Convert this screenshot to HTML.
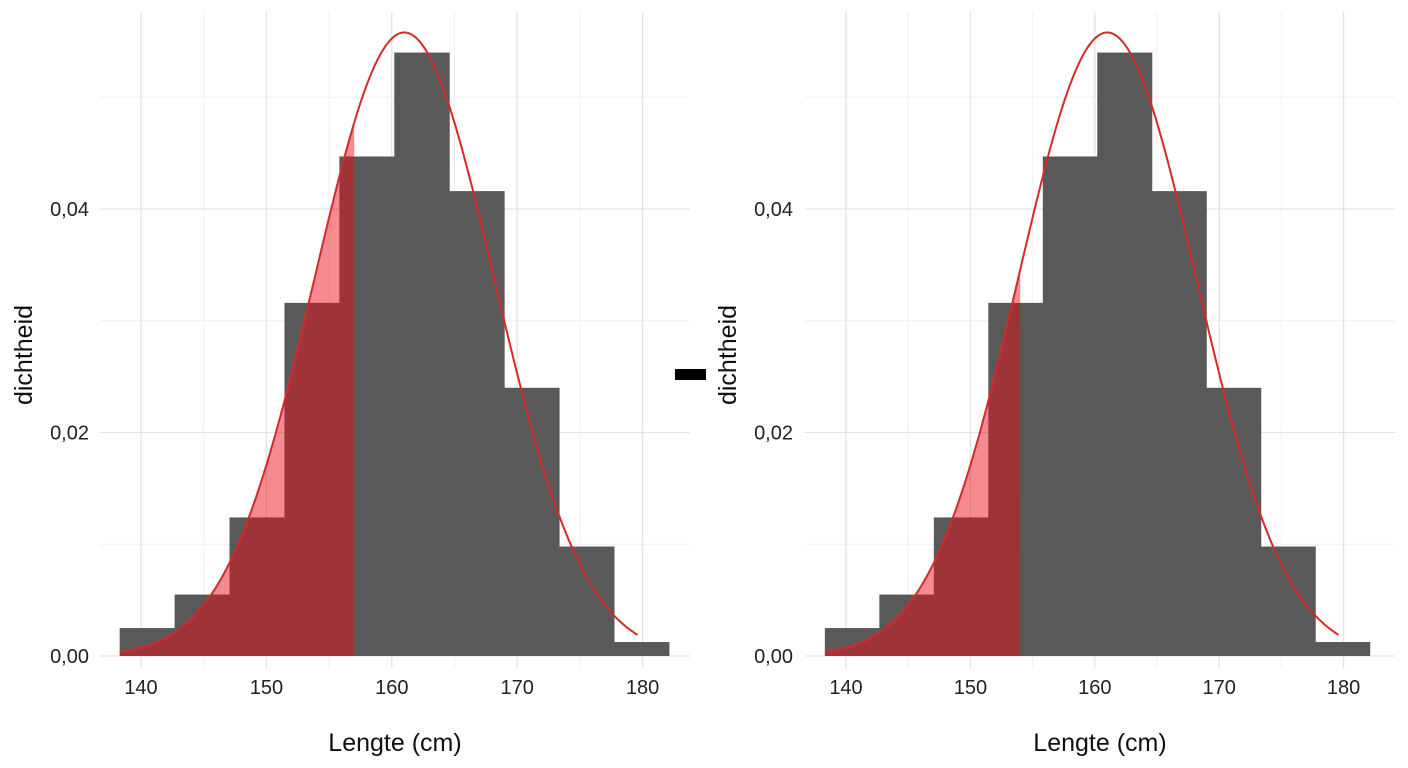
<!DOCTYPE html>
<html><head><meta charset="utf-8"><style>
body{margin:0;background:#fff;}
svg{display:block;font-family:"Liberation Sans",sans-serif;}
</style></head><body>
<svg id="c" width="1408" height="768"></svg>
<script>
const binStart = 138.3;
const binWidth = 4.38;
const binDensities = [0.0025, 0.0055, 0.0124, 0.0316, 0.0447, 0.054, 0.0416, 0.024, 0.0098, 0.00125];
const normMean = 161.0;
const normSd = 7.15;
const curveRange = [138.3, 179.6];
const shadeLimits = [157, 154];
const xTicks = [140, 150, 160, 170, 180];
const xTickLabels = ["140", "150", "160", "170", "180"];
const yTicks = [0, 0.02, 0.04];
const yTickLabels = ["0,00", "0,02", "0,04"];
const yMinor = [0.01, 0.03, 0.05];
const xMinor = [145, 155, 165, 175];

const NS = "http://www.w3.org/2000/svg";
const svg = document.getElementById('c');
function mk(tag, attrs, parent){const e=document.createElementNS(NS,tag);for(const k in attrs)e.setAttribute(k,attrs[k]);(parent||svg).appendChild(e);return e;}

const panels = [
  {x140:141, ppc:12.54, left:100, right:690, yLab:89, titleX:32, shade:shadeLimits[0]},
  {x140:846, ppc:12.44, left:805, right:1395, yLab:793, titleX:736, shade:shadeLimits[1]}
];
const y0 = 656, ppu = 11175;
const Y = v => y0 - v*ppu;
function dens(x){return Math.exp(-0.5*((x-normMean)/normSd)**2)/(normSd*Math.sqrt(2*Math.PI));}

panels.forEach((p, pi) => {
  const X = v => p.x140 + (v-140)*p.ppc;
  const g = mk('g', {});
  
  
  yMinor.forEach(v => { const l = mk('line',{x1:p.left,x2:p.right,y1:Y(v),y2:Y(v),stroke:'#f0f0f0','stroke-width':1},g);   });
  xMinor.forEach(v => { const l = mk('line',{x1:X(v),x2:X(v),y1:12,y2:668,stroke:'#f0f0f0','stroke-width':1},g);   });
  yTicks.forEach((v,i) => {
    const l = mk('line',{x1:p.left,x2:p.right,y1:Y(v),y2:Y(v),stroke:'#e3e3e3','stroke-width':1.3},g);
     
    const t = mk('text',{x:p.yLab,y:Y(v)+7,'text-anchor':'end','font-size':20,fill:'#222'},g);
    t.textContent = yTickLabels[i];
     
  });
  xTicks.forEach((v,i) => {
    const l = mk('line',{x1:X(v),x2:X(v),y1:12,y2:668,stroke:'#e3e3e3','stroke-width':1.3},g);
     
    const t = mk('text',{x:X(v),y:694,'text-anchor':'middle','font-size':20,fill:'#222'},g);
    t.textContent = xTickLabels[i];
     
  });
  binDensities.forEach((d,i) => {
    const x1 = X(binStart + i*binWidth), x2 = X(binStart + (i+1)*binWidth);
    const r = mk('rect',{x:x1,y:Y(d),width:x2-x1+0.5,height:y0-Y(d),fill:'#595959'},g);
     
  });
  let pts = [];
  for(let x=curveRange[0]; x<=p.shade; x+=0.1) pts.push(X(x).toFixed(1)+','+Y(dens(x)).toFixed(1));
  pts.push(X(p.shade).toFixed(1)+','+Y(dens(p.shade)).toFixed(1));
  pts.push(X(p.shade)+','+y0, X(curveRange[0])+','+y0);
  const sh = mk('polygon',{points:pts.join(' '),fill:'rgba(235,10,20,0.48)'},g);
   
  let cp = [];
  for(let x=curveRange[0]; x<=curveRange[1]+0.001; x+=0.1) cp.push(X(x).toFixed(1)+','+Y(dens(x)).toFixed(1));
  const c = mk('polyline',{points:cp.join(' '),fill:'none',stroke:'#d42a2a','stroke-width':2},g);
   
  const xt = mk('text',{x:(p.left+p.right)/2,y:751,'text-anchor':'middle','font-size':25,fill:'#111'},g);
  xt.textContent = 'Lengte (cm)';
   
  const yt = mk('text',{x:0,y:0,'text-anchor':'middle','font-size':25,fill:'#111',transform:`translate(${p.titleX},355) rotate(-90)`},g);
  yt.textContent = 'dichtheid';
   
});
const bar = mk('rect',{x:675,y:369,width:31,height:11,fill:'#000'});


</script>
</body></html>
